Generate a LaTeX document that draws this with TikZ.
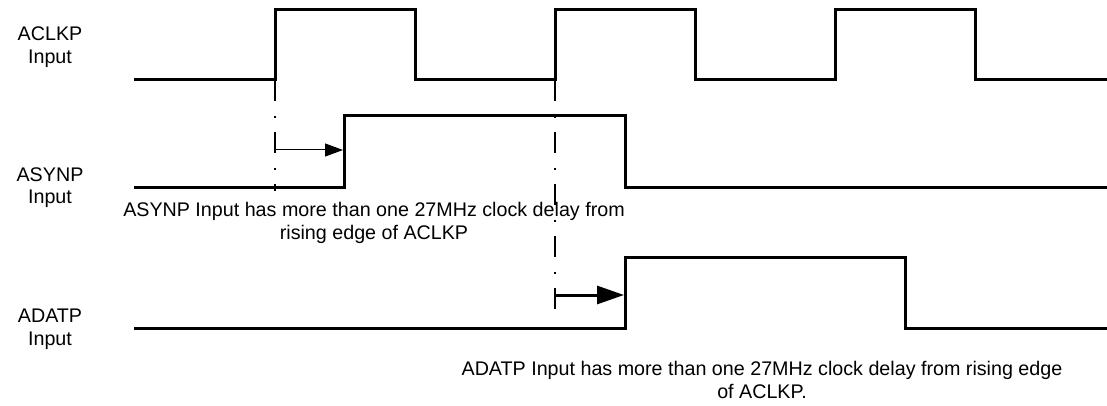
\documentclass[tikz,border=0pt]{standalone}
\usepackage{fontspec}
\setmainfont{Liberation Sans}
\usetikzlibrary{arrows.meta}
\begin{document}
\begin{tikzpicture}[x=1pt,y=-1pt,
  wave/.style={line width=3pt, line join=miter, line cap=butt},
  guide/.style={line width=2.6pt, line cap=butt, dash pattern=on 21pt off 15pt on 2pt off 14pt},
  lbl/.style={font=\fontsize{19.7}{22.7}\selectfont, align=center, anchor=base, inner sep=0pt},
  ]
\fill[white] (0,0) rectangle (1107,406);
\useasboundingbox (0,0) rectangle (1107,406);
% guide lines
\draw[guide] (275,80) -- (275,191);
\draw[guide] (555,80) -- (555,322);
% waveforms
\draw[wave] (134,80) -- (275,80) -- (275,10) -- (415,10) -- (415,80) -- (555,80) -- (555,10) -- (695,10) -- (695,80) -- (835,80) -- (835,10) -- (975,10) -- (975,80) -- (1107,80);
\draw[wave] (134,187) -- (344,187) -- (344,116) -- (625,116) -- (625,187) -- (1107,187);
\draw[wave] (134,328) -- (625,328) -- (625,257) -- (905,257) -- (905,328) -- (1107,328);
% delay arrows
\coordinate (g1) at (275,150);
\coordinate (e1) at (343,150);
\coordinate (g2) at (555,295);
\coordinate (e2) at (624,295);
\draw[line width=1pt, -{Triangle[length=18pt,width=13pt]}] (g1) -- (e1);
\draw[line width=3pt, -{Triangle[length=27pt,width=18pt]}] (g2) -- (e2);
% labels (base anchor = baseline of last line)
\node[lbl] (lclk) at (50,63.5) {ACLKP\\Input};
\node[lbl] (lsyn) at (50,204) {ASYNP\\Input};
\node[lbl] (ldat) at (50,345) {ADATP\\Input};
\node[lbl] (n1) at (374,239) {ASYNP Input has more than one 27MHz clock delay from\\rising edge of ACLKP};
\node[lbl] (n2) at (762,398) {ADATP Input has more than one 27MHz clock delay from rising edge\\of ACLKP.};
\end{tikzpicture}
\end{document}
